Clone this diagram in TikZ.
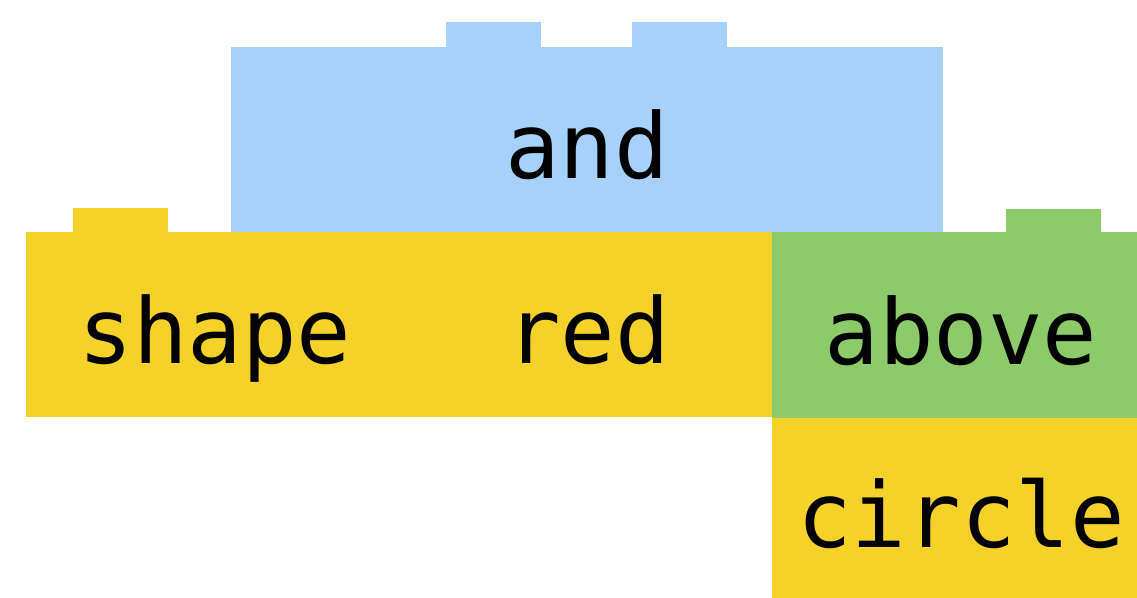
\documentclass[tikz,border=0pt]{standalone}
\usepackage{fontspec}
\setmonofont{DejaVu Sans Mono}
\definecolor{brickblue}{RGB}{166,209,250}
\definecolor{brickyellow}{RGB}{245,210,42}
\definecolor{brickgreen}{RGB}{141,203,106}
\tikzset{
  brick/.style={rectangle, inner sep=0pt, outer sep=0pt, text=black,
    font=\ttfamily\fontsize{68}{80}\selectfont,
    text height=58.5pt, text depth=0pt},
}
\begin{document}
\begin{tikzpicture}[x=0.75pt, y=-0.75pt]
% Bricks stacked like toy blocks
% Units: 1 = one pixel of the 1137x598 frame, y pointing down
% (node sizes in pt: pixels * 0.75)
\useasboundingbox (0,0) rectangle (1137,598);

% Stud size
\def\sw{95}
\def\sh{24}

% Top row: 712x185 px
\node[brick, fill=brickblue, minimum width=534pt, minimum height=138.75pt] (and) at (587,139.5) {and};
\fill[brickblue] (446,22) rectangle ++(\sw,25);
\fill[brickblue] (632,22) rectangle ++(\sw,25);

% Middle row: 378, 368 px wide; right column runs past the frame edge
\node[brick, fill=brickyellow, minimum width=283.5pt, minimum height=138.75pt] (shape) at (215,324.5) {shape};
\node[brick, fill=brickyellow, minimum width=276pt, minimum height=138.75pt] (red) at (588,324.5) {red};
\node[brick, fill=brickgreen, minimum width=283.5pt, minimum height=139.5pt] (above) at (961,325) {above};
\fill[brickyellow] (73,208) rectangle ++(\sw,\sh);
\fill[brickgreen] (1006,209) rectangle ++(\sw,23);

% Bottom row: 378x180 px
\node[brick, fill=brickyellow, minimum width=283.5pt, minimum height=135pt] (circle) at (961,508) {circle};
\end{tikzpicture}
\end{document}
